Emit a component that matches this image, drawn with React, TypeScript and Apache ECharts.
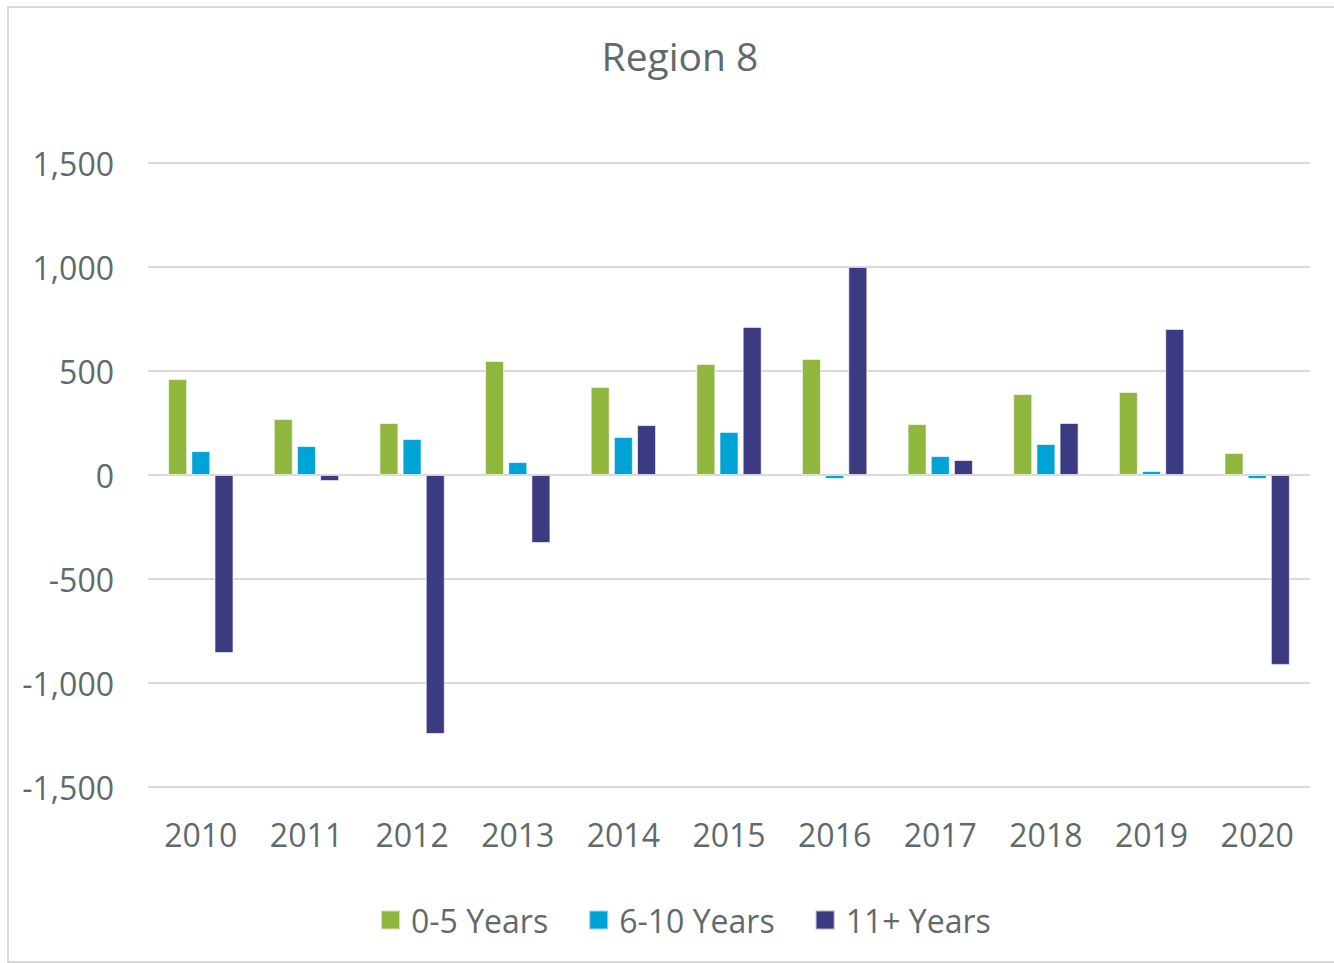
import React, { useEffect, useRef } from "react";
import * as echarts from "echarts";

const years = ["2010", "2011", "2012", "2013", "2014", "2015", "2016", "2017", "2018", "2019", "2020"];
const young = [461, 269, 250, 548, 423, 534, 558, 245, 389, 399, 106];
const mid = [115, 139, 173, 62, 183, 207, -19, 91, 149, 19, -19];
const old = [-856, -29, -1245, -327, 240, 712, 1000, 72, 250, 702, -913];
const seriesNames = ["0-5 Years", "6-10 Years", "11+ Years"];
const colors = ["#8FB73E", "#00A3D6", "#3C3A80"];

const FONT = "'Open Sans', sans-serif";
const TXT = "#5F6B6B";

export default function App() {
  const ref = useRef<HTMLDivElement>(null);
  useEffect(() => {
    if (!ref.current) return;
    const chart = echarts.init(ref.current, undefined, { renderer: "svg" });
    const data = [young, mid, old];
    chart.setOption({
      animation: false,
      backgroundColor: "#ffffff",
      graphic: [
        {
          type: "rect",
          shape: { x: 8, y: 7, width: 1340, height: 955 },
          style: { fill: "none", stroke: "#D9D9D9", lineWidth: 2 },
          silent: true,
        },
        {
          type: "text",
          x: 680,
          y: 55,
          style: {
            text: "Region 8",
            fill: TXT,
            font: "39px 'Open Sans', sans-serif",
            align: "center",
            verticalAlign: "middle",
          },
          silent: true,
        },
      ],
      legend: {
        bottom: 22,
        left: 375,
        itemWidth: 19,
        itemHeight: 19,
        itemGap: 40,
        icon: "rect",
        textStyle: { color: TXT, fontFamily: FONT, fontSize: 32, padding: [0, 0, 0, 6] },
        data: seriesNames,
      },
      grid: { left: 148, right: 24, top: 163, bottom: 176, containLabel: false },
      xAxis: {
        type: "category",
        data: years,
        axisLine: { show: false },
        axisTick: { show: false },
        axisLabel: { color: TXT, fontFamily: FONT, fontSize: 32, margin: 31 },
      },
      yAxis: {
        type: "value",
        min: -1500,
        max: 1500,
        interval: 500,
        axisLine: { show: false },
        axisTick: { show: false },
        axisLabel: {
          color: TXT,
          fontFamily: FONT,
          fontSize: 32,
          margin: 34,
          formatter: (v: number) => v.toLocaleString("en-US"),
        },
        splitLine: { lineStyle: { color: "#D9D9D9", width: 2 } },
      },
      series: seriesNames.map((name, i) => ({
        name,
        type: "bar",
        data: data[i],
        barWidth: 19,
        barGap: "22%",
        itemStyle: { color: colors[i], borderColor: "rgba(255,255,255,0.6)", borderWidth: 1 },
      })),
    });
    return () => chart.dispose();
  }, []);
  return (
    <div
      ref={ref}
      style={{ position: "absolute", left: 0, top: 0, width: 1334, height: 963 }}
    />
  );
}
